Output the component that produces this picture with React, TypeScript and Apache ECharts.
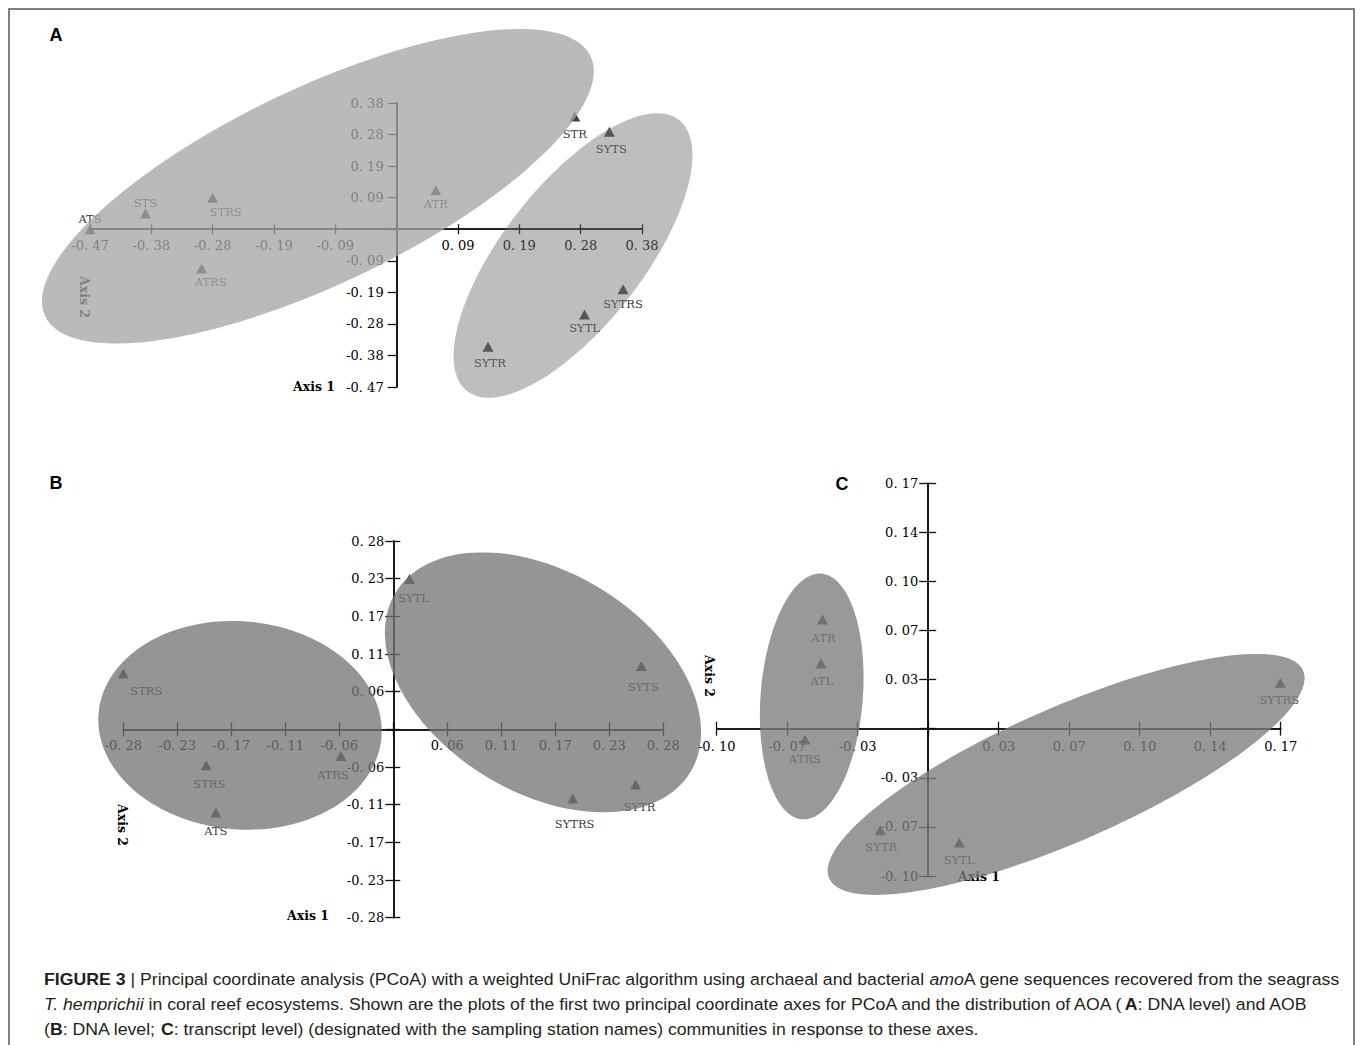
import React, { useEffect, useRef } from 'react';
import * as echarts from 'echarts';

const SERIF = '"DejaVu Serif", "Liberation Serif", serif';
const SANS = '"Liberation Sans", Arial, sans-serif';

// ---------- Panel A (AOA, DNA level) ----------
const A_STEP = 0.094;
const A_MIN = -0.47;
const A_MAX = 0.376;
const A_X_TICKS = ['-0. 47', '-0. 38', '-0. 28', '-0. 19', '-0. 09', '', '0. 09', '0. 19', '0. 28', '0. 38'];
const A_Y_TICKS = ['-0. 47', '-0. 38', '-0. 28', '-0. 19', '-0. 09', '', '0. 09', '0. 19', '0. 28', '0. 38'];
const A_NAMES = ['ATS', 'STS', 'STRS', 'ATRS', 'ATR', 'STR', 'SYTS', 'SYTRS', 'SYTL', 'SYTR'];
const A_X = [-0.47, -0.385, -0.282, -0.299, 0.06, 0.273, 0.326, 0.347, 0.288, 0.14];
const A_Y = [0.0, 0.047, 0.094, -0.117, 0.116, 0.336, 0.29, -0.179, -0.254, -0.35];
// ellipses: [centre x, centre y, semi-axis (x units), semi-axis (y units), tilt deg]
const A_ELLIPSES = [
  [-0.1207, 0.128, 0.463, 0.292, 25.5],
  [0.2703, -0.0783, 0.2637, 0.2085, 52],
];

// ---------- Panel B (AOB, DNA level) ----------
const B_STEP = 0.0566;
const B_MIN = -0.283;
const B_MAX = 0.283;
const B_X_TICKS = ['-0. 28', '-0. 23', '-0. 17', '-0. 11', '-0. 06', '', '0. 06', '0. 11', '0. 17', '0. 23', '0. 28'];
const B_Y_TICKS = ['-0. 28', '-0. 23', '-0. 17', '-0. 11', '-0. 06', '', '0. 06', '0. 11', '0. 17', '0. 23', '0. 28'];
const B_NAMES = ['STRS', 'STRS', 'ATS', 'ATRS', 'SYTL', 'SYTS', 'SYTR', 'SYTRS'];
const B_X = [-0.283, -0.196, -0.186, -0.055, 0.017, 0.26, 0.254, 0.188];
const B_Y = [0.084, -0.054, -0.125, -0.04, 0.226, 0.095, -0.083, -0.104];
const B_ELLIPSES = [
  [-0.1607, 0.006, 0.1488, 0.1563, -5],
  [0.1569, 0.0706, 0.1809, 0.1653, -31.4],
];

// ---------- Panel C (AOB, transcript level) ----------
const C_STEP = 0.0345;
const C_MIN = -0.1035;
const C_MAX = 0.1725;
const C_X_TICKS = ['-0. 10', '-0. 07', '-0. 03', '', '0. 03', '0. 07', '0. 10', '0. 14', '0. 17'];
const C_Y_TICKS = ['-0. 10', '-0. 07', '-0. 03', '', '0. 03', '0. 07', '0. 10', '0. 14', '0. 17'];
const C_NAMES = ['ATR', 'ATL', 'ATRS', 'SYTR', 'SYTL', 'SYTRS'];
const C_X = [-0.0517, -0.0525, -0.0603, -0.0235, 0.0152, 0.1723];
const C_Y = [0.0768, 0.0459, -0.0075, -0.0713, -0.08, 0.0323];
const C_ELLIPSES = [
  [-0.057, 0.0227, 0.025, 0.0866, -4.5],
  [0.0675, -0.0321, 0.1266, 0.047, 23.65],
];

// caption
const CAPTION_LINES: [string, string][][] = [
  [
    ['b', 'FIGURE 3'],
    ['n', ' | Principal coordinate analysis (PCoA) with a weighted UniFrac algorithm using archaeal and bacterial '],
    ['i', 'amo'],
    ['n', 'A gene sequences recovered from the seagrass'],
  ],
  [
    ['i', 'T. hemprichii'],
    ['n', ' in coral reef ecosystems. Shown are the plots of the first two principal coordinate axes for PCoA and the distribution of AOA ('],
    ['b', 'A'],
    ['n', ': DNA level) and AOB'],
  ],
  [
    ['n', '('],
    ['b', 'B'],
    ['n', ': DNA level; '],
    ['b', 'C'],
    ['n', ': transcript level) (designated with the sampling station names) communities in response to these axes.'],
  ],
];

// ---------- styling (not data) ----------
const AX = '#111';
const A_LABEL_OFFSETS = [[0, -10], [0, -10], [13, 14], [9, 14], [0, 14], [0, 18], [2, 17], [0, 15], [0, 14], [2, 16]];
const B_LABEL_OFFSETS = [[23, 18], [3, 19], [0, 18], [-8, 19], [4, 19], [2, 21], [4, 22], [2, 25]];
const C_LABEL_OFFSETS = [[1, 19], [1, 18], [0, 20], [1, 17], [0, 17], [-1, 17]];
const A_FILLS = ['rgba(165,165,165,0.77)', 'rgba(110,110,110,0.45)'];
const B_FILLS = ['rgba(117,117,117,0.77)', 'rgba(117,117,117,0.77)'];
const C_FILLS = ['rgba(124,124,124,0.78)', 'rgba(124,124,124,0.78)'];

const BOXES = [
  { left: 90, top: 103, width: 552, height: 284 },
  { left: 123.3, top: 541, width: 540, height: 376.7 },
  { left: 716.7, top: 483.3, width: 564, height: 392.7 },
];

type PanelCfg = {
  min: number; max: number; step: number; xt: string[]; yt: string[];
  xTick: number; yTickL: number; yTickR: number; xMargin: number; yMargin: number;
};

// Builds a main grid (hidden axes, holds series) and two helper grids whose
// edges sit on the zero lines, so the drawn axes cross at the origin.
function buildPanel(box: any, c: PanelCfg, grids: any[], xAxes: any[], yAxes: any[]) {
  const span = c.max - c.min;
  const zeroY = box.top + (box.height * c.max) / span;
  const zeroX = box.left + (box.width * -c.min) / span;
  const fmt = (ticks: string[]) => (v: number) => ticks[Math.round((v - c.min) / c.step)] ?? '';
  const val = { type: 'value', min: c.min, max: c.max, interval: c.step, splitLine: { show: false } };
  const hidden = { type: 'value', min: 0, max: 1, show: false };
  const line = { show: true, onZero: false, lineStyle: { color: AX, width: 1.6 } };
  const tickStyle = { color: AX, width: 1.3 };
  const label = (ticks: string[], margin: number) => ({
    show: true, margin, formatter: fmt(ticks), fontFamily: SERIF, fontSize: 13, color: '#000',
    showMinLabel: true, showMaxLabel: true,
  });

  const gMain = grids.length;
  grids.push({ ...box, containLabel: false });
  const mainX = xAxes.length;
  xAxes.push({ ...val, gridIndex: gMain, show: false });
  const mainY = yAxes.length;
  yAxes.push({ ...val, gridIndex: gMain, show: false });

  const gX = grids.length;
  grids.push({ left: box.left, width: box.width, top: box.top, height: zeroY - box.top, containLabel: false });
  xAxes.push({
    ...val, gridIndex: gX, position: 'bottom', axisLine: line,
    axisTick: { show: true, length: c.xTick, inside: false, lineStyle: tickStyle },
    axisLabel: label(c.xt, c.xMargin),
  });
  xAxes.push({
    ...val, gridIndex: gX, position: 'bottom', axisLine: line,
    axisTick: { show: true, length: c.xTick, inside: true, lineStyle: tickStyle },
    axisLabel: { show: false },
  });
  yAxes.push({ ...hidden, gridIndex: gX });

  const gY = grids.length;
  grids.push({ left: zeroX, width: box.left + box.width - zeroX, top: box.top, height: box.height, containLabel: false });
  xAxes.push({ ...hidden, gridIndex: gY });
  yAxes.push({
    ...val, gridIndex: gY, position: 'left', axisLine: line,
    axisTick: { show: true, length: c.yTickL, inside: false, lineStyle: tickStyle },
    axisLabel: label(c.yt, c.yMargin),
  });
  yAxes.push({
    ...val, gridIndex: gY, position: 'left', axisLine: line,
    axisTick: { show: c.yTickR > 0, length: c.yTickR, inside: true, lineStyle: tickStyle },
    axisLabel: { show: false },
  });
  return { x: mainX, y: mainY };
}

function scatterSeries(ax: any, names: string[], xs: number[], ys: number[], offs: number[][]) {
  return {
    type: 'scatter', xAxisIndex: ax.x, yAxisIndex: ax.y, z: 3,
    symbol: 'triangle', symbolSize: [11, 10],
    itemStyle: { color: '#151515' },
    label: { show: true, position: 'inside', formatter: '{b}', fontFamily: SERIF, fontSize: 11.5, color: '#000' },
    data: names.map((n, i) => ({ name: n, value: [xs[i], ys[i]], label: { offset: offs[i] } })),
  };
}

function ellipseSeries(ax: any, ells: number[][], fills: string[]) {
  return {
    type: 'custom', xAxisIndex: ax.x, yAxisIndex: ax.y, z: 10, silent: true, clip: false,
    data: ells,
    renderItem: (params: any, api: any) => {
      const c = api.coord([api.value(0), api.value(1)]);
      const s = api.size([api.value(2), api.value(3)]);
      const t = (api.value(4) * Math.PI) / 180;
      const pts: number[][] = [];
      const N = 144;
      for (let k = 0; k < N; k++) {
        const p = (k / N) * Math.PI * 2;
        const u = s[0] * Math.cos(p);
        const w = s[1] * Math.sin(p);
        pts.push([c[0] + u * Math.cos(t) - w * Math.sin(t), c[1] - (u * Math.sin(t) + w * Math.cos(t))]);
      }
      return { type: 'polygon', shape: { points: pts }, style: { fill: fills[params.dataIndex], stroke: 'none' } };
    },
  };
}

export default function App() {
  const ref = useRef<HTMLDivElement>(null);
  useEffect(() => {
    document.body.style.margin = '0';
    if (!ref.current) return;
    const chart = echarts.init(ref.current, undefined, { renderer: 'svg' });

    const grids: any[] = [];
    const xAxes: any[] = [];
    const yAxes: any[] = [];
    const axA = buildPanel(BOXES[0], { min: A_MIN, max: A_MAX, step: A_STEP, xt: A_X_TICKS, yt: A_Y_TICKS, xTick: 5, yTickL: 9, yTickR: 0, xMargin: 10, yMargin: 13 }, grids, xAxes, yAxes);
    const axB = buildPanel(BOXES[1], { min: B_MIN, max: B_MAX, step: B_STEP, xt: B_X_TICKS, yt: B_Y_TICKS, xTick: 7, yTickL: 8, yTickR: 7, xMargin: 10, yMargin: 9 }, grids, xAxes, yAxes);
    const axC = buildPanel(BOXES[2], { min: C_MIN, max: C_MAX, step: C_STEP, xt: C_X_TICKS, yt: C_Y_TICKS, xTick: 7, yTickL: 9, yTickR: 8, xMargin: 11, yMargin: 10 }, grids, xAxes, yAxes);

    const CAP_SIZE = 16.5;
    const canvas = document.createElement('canvas');
    const ctx = canvas.getContext('2d')!;
    const measure = (segs: [string, string][]) => {
      let w = 0;
      for (const [k, t] of segs) {
        ctx.font = `${k === 'i' ? 'italic ' : ''}${k === 'b' ? 'bold ' : ''}${CAP_SIZE}px ${SANS}`;
        w += ctx.measureText(t).width;
      }
      return w;
    };
    const capScale = 1296 / measure(CAPTION_LINES[0]);
    const rich = {
      n: { fontSize: CAP_SIZE, fontFamily: SANS, fill: '#231f20' },
      b: { fontSize: CAP_SIZE, fontFamily: SANS, fontWeight: 'bold', fill: '#231f20' },
      i: { fontSize: CAP_SIZE, fontFamily: SANS, fontStyle: 'italic', fill: '#231f20' },
    };
    const captionEls = CAPTION_LINES.map((segs, li) => ({
      type: 'text', x: 44, y: 980 + li * 25, scaleX: capScale, z: 20,
      style: {
        text: segs.map(([k, t]) => `{${k}|${t}}`).join(''),
        rich, fontSize: CAP_SIZE, fontFamily: SANS, fill: '#231f20', align: 'left', verticalAlign: 'middle',
      },
    }));

    const txt = (text: string, x: number, y: number, extra: any = {}) => ({
      type: 'text', x, y, z: 1, ...extra,
      style: { text, fontFamily: SERIF, fontSize: 12.5, fontWeight: 'bold', fill: '#000', align: 'center', verticalAlign: 'middle' },
    });
    const letter = (text: string, x: number, y: number) => ({
      type: 'text', x, y, z: 20,
      style: { text, fontFamily: SANS, fontSize: 18, fontWeight: 'bold', fill: '#000', align: 'center', verticalAlign: 'middle' },
    });

    const option: any = {
      animation: false,
      backgroundColor: '#fff',
      grid: grids,
      xAxis: xAxes,
      yAxis: yAxes,
      series: [
        scatterSeries(axA, A_NAMES, A_X, A_Y, A_LABEL_OFFSETS),
        scatterSeries(axB, B_NAMES, B_X, B_Y, B_LABEL_OFFSETS),
        scatterSeries(axC, C_NAMES, C_X, C_Y, C_LABEL_OFFSETS),
        ellipseSeries(axA, A_ELLIPSES, A_FILLS),
        ellipseSeries(axB, B_ELLIPSES, B_FILLS),
        ellipseSeries(axC, C_ELLIPSES, C_FILLS),
      ],
      graphic: [
        { type: 'rect', z: 0, shape: { x: 9, y: 9, width: 1345, height: 1050 }, style: { fill: 'none', stroke: '#555', lineWidth: 1.5 } },
        letter('A', 56, 35),
        letter('B', 56, 483),
        letter('C', 842, 484),
        txt('Axis 1', 314, 386),
        txt('Axis 2', 84, 297, { rotation: -Math.PI / 2 }),
        txt('Axis 1', 308, 915),
        txt('Axis 2', 122, 825, { rotation: -Math.PI / 2 }),
        txt('Axis 2', 709, 676, { rotation: -Math.PI / 2 }),
        txt('Axis 1', 979, 876),
        ...captionEls,
      ],
    };
    chart.setOption(option);
    return () => chart.dispose();
  }, []);
  return <div ref={ref} style={{ width: 1360, height: 1045 }} />;
}
